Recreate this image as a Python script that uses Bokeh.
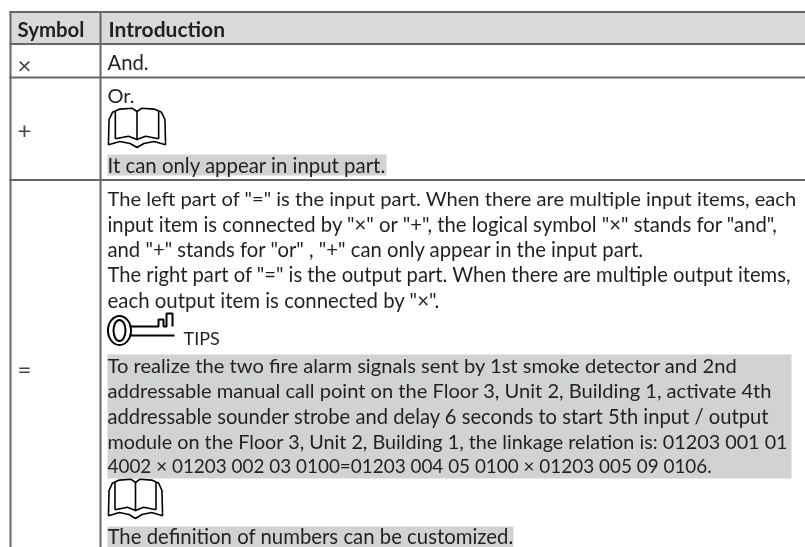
from bokeh.plotting import figure
from bokeh.embed import file_html
from bokeh.resources import INLINE
from bokeh.core.properties import value
from bokeh.models import Range1d

FONT = "Lato"
INK = "#231f20"
RULE = "#666666"

header_labels = ["Symbol", "Introduction"]
symbols = ["\u00d7", "+", "="]
and_text = "And."
or_text = "Or."
note_1 = "It can only appear in input part."
body_lines = [
    'The left part of "=" is the input part. When there are multiple input items, each',
    'input item is connected by "\u00d7" or "+", the logical symbol "\u00d7" stands for "and",',
    'and "+" stands for "or" , "+" can only appear in the input part.',
    'The right part of "=" is the output part. When there are multiple output items,',
    'each output item is connected by "\u00d7".',
]
tips_label = "TIPS"
tip_lines = [
    "To realize the two fire alarm signals sent by 1st smoke detector and 2nd",
    "addressable manual call point on the Floor 3, Unit 2, Building 1, activate 4th",
    "addressable sounder strobe and delay 6 seconds to start 5th input / output",
    "module on the Floor 3, Unit 2, Building 1, the linkage relation is: 01203 001 01",
    "4002 \u00d7 01203 002 03 0100=01203 004 05 0100 \u00d7 01203 005 09 0106.",
]
note_2 = "The definition of numbers can be customized."

p = figure(width=805, height=547, output_backend="svg", toolbar_location=None,
           x_range=Range1d(0, 805), y_range=Range1d(547, 0),
           min_border=0, outline_line_color=None)
p.axis.visible = False
p.grid.visible = False
p.styles = {"position": "fixed", "left": "0px", "top": "0px"}

# fills
p.quad(left=[10], right=[805], top=[12], bottom=[43], fill_color="#d9d9d9", line_color=None)
p.quad(left=[107, 107, 107], right=[386, 791, 513], top=[154, 354, 526], bottom=[175, 478, 547],
       fill_color="#d1d2d4", line_color=None)

# rules
p.multi_line(xs=[[9, 805], [9, 805], [9, 805], [9, 805], [10, 10], [100, 100]],
             ys=[[11.5, 11.5], [43.5, 43.5], [77, 77], [179.5, 179.5], [11, 547], [11, 547]],
             line_color=RULE, line_width=2)

BASE_SHIFT = 8

def txt(x, y, s, size=20, style="normal", color=INK):
    p.text(x=[x], y=[y - BASE_SHIFT], text=[s], text_font=value(FONT), text_font_size=f"{size}px",
           text_color=color, text_baseline="alphabetic", text_align="left", text_font_style=style)

txt(17, 36, header_labels[0], 20.4, "bold")
txt(108, 36, header_labels[1], 21, "bold")
txt(17, 72, symbols[0], 24, color="#444444")
txt(17, 138, symbols[1], 24, color="#444444")
txt(17, 376, symbols[2], 24, color="#444444")
txt(107, 69.5, and_text, 20.3)
txt(107, 102, or_text)
txt(107, 172.5, note_1, 20.4)
for y, s, size in zip([205, 231, 256, 281.5, 307], body_lines, [20.15, 20.3, 20.25, 20.2, 20.4]):
    txt(107, y, s, size)
txt(183, 345, tips_label, 18)
for y, s, size in zip([372, 397, 423, 448, 473], tip_lines, [20.15, 20.1, 20.2, 19.8, 18.9]):
    txt(107, y, s, size)
txt(107, 543.5, note_2, 20.35)

OUTER = [(0, .85), (.01, .3), (.07, .12), (.2, .04), (.42, .02), (.5, .1), (.58, .02), (.8, .04), (.93, .12), (.99, .3), (1, .85)]
PAGE_L = [(.12, .1), (.12, .78)]
PAGE_R = [(.88, .1), (.88, .78)]
SPINE = [(.5, .1), (.5, .82)]
PAGE_B = [(.12, .78), (.35, .72), (.5, .8), (.65, .72), (.88, .78)]
COVER = [(0, .85), (0, .93), (.2, .85), (.38, .9), (.5, 1), (.62, .9), (.8, .85), (1, .93), (1, .85)]

def book(x0, y0, w, h):
    parts = [OUTER, PAGE_L, PAGE_R, SPINE, PAGE_B, COVER]
    p.multi_line(xs=[[x0 + u * w for u, v in q] for q in parts],
                 ys=[[y0 + v * h for u, v in q] for q in parts],
                 line_color="#000000", line_width=1.6)

book(108, 107, 57, 40)
book(108, 478, 54, 40)

# key
p.ellipse(x=[119], y=[330], width=[23], height=[29], fill_color=None, line_color="#000000", line_width=2)
p.ellipse(x=[119], y=[330], width=[12], height=[21], fill_color=None, line_color="#000000", line_width=2)
p.multi_line(xs=[[129, 158, 158, 163, 163, 166, 166, 172, 172], [129, 174]],
             ys=[[326, 326, 319, 319, 326, 326, 313, 313, 326], [335, 335]],
             line_color="#000000", line_width=2)

open("out.html", "w").write(file_html(p, INLINE))
